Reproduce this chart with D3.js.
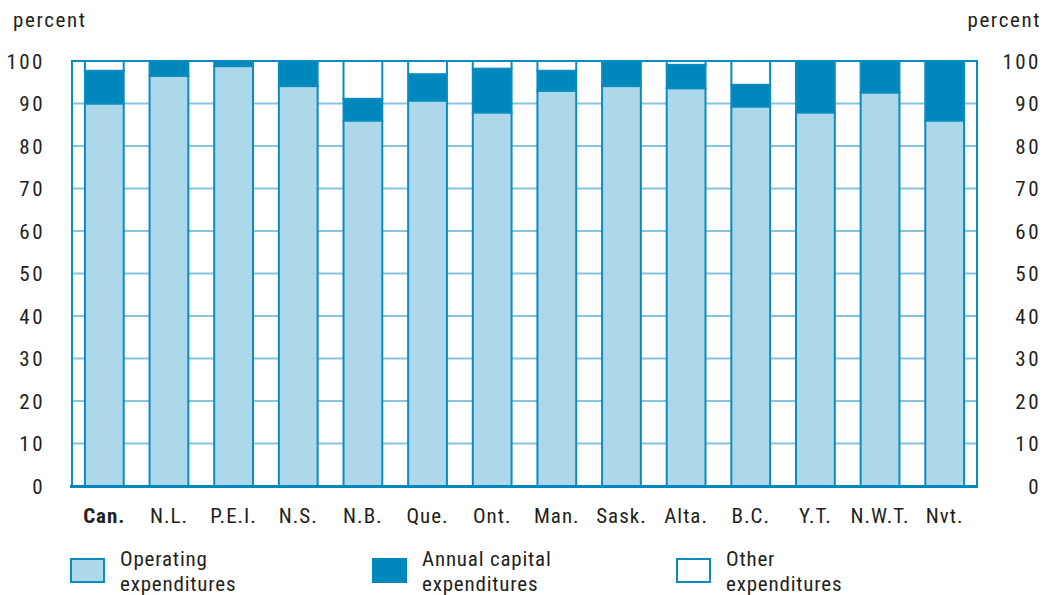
<!DOCTYPE html>
<html>
<head>
<meta charset="utf-8">
<script src="https://cdn.jsdelivr.net/npm/d3@7"></script>
<style>
  body { margin: 0; background: #fff; }
  text { font-family: "Liberation Sans Narrow", "Roboto Condensed", Roboto, sans-serif; fill: #231f20; }
</style>
</head>
<body>
<div id="graphic"></div>
<script>
var regions = ["Can.", "N.L.", "P.E.I.", "N.S.", "N.B.", "Que.", "Ont.", "Man.", "Sask.", "Alta.", "B.C.", "Y.T.", "N.W.T.", "Nvt."];
var operating = [90.0, 96.5, 98.8, 94.1, 86.0, 90.7, 87.9, 93.0, 94.1, 93.6, 89.3, 87.9, 92.6, 86.0];
var capital   = [7.7, 3.5, 1.2, 5.9, 5.1, 6.2, 10.3, 4.7, 5.9, 5.5, 5.1, 12.1, 7.4, 14.0];
var yTicks = [0, 10, 20, 30, 40, 50, 60, 70, 80, 90, 100];
var legendLabels = [["Operating", "expenditures"], ["Annual capital", "expenditures"], ["Other", "expenditures"]];

var width = 1058, height = 595;
var margin = {top: 61, right: 81, bottom: 109, left: 72};

var svg = d3.select("#graphic").append("svg")
  .attr("width", width)
  .attr("height", height);

var x = d3.scaleBand()
  .domain(regions)
  .range([margin.left, width - margin.right])
  .paddingInner(0.4)
  .paddingOuter(0.2);

var y = d3.scaleLinear()
  .domain([0, 100])
  .range([height - margin.bottom, margin.top]);

var blue = "#0a8bc2";
var fills = ["#add8e9", "#0088bd", "#ffffff"];

// gridlines
svg.append("g").selectAll("line")
  .data(yTicks.filter(function(d) { return d > 0 && d < 100; }))
  .enter().append("line")
  .attr("x1", margin.left).attr("x2", width - margin.right)
  .attr("y1", function(d) { return y(d); })
  .attr("y2", function(d) { return y(d); })
  .attr("stroke", "#86c4df")
  .attr("stroke-width", 2);

// stacked bars
var stacks = regions.map(function(r, i) {
  var op = operating[i], cap = capital[i];
  return [
    {region: r, y0: 0, y1: op, k: 0},
    {region: r, y0: op, y1: op + cap, k: 1},
    {region: r, y0: op + cap, y1: 100, k: 2}
  ];
});

var bars = svg.append("g").selectAll("g")
  .data(stacks)
  .enter().append("g");

bars.selectAll("rect")
  .data(function(d) { return d.filter(function(s) { return s.y1 - s.y0 > 0.05; }); })
  .enter().append("rect")
  .attr("x", function(d) { return x(d.region); })
  .attr("width", x.bandwidth())
  .attr("y", function(d) { return y(d.y1); })
  .attr("height", function(d) { return y(d.y0) - y(d.y1); })
  .attr("fill", function(d) { return fills[d.k]; })
  .attr("stroke", blue)
  .attr("stroke-width", 2);

// frame
svg.append("path")
  .attr("d", "M" + margin.left + "," + y(0) + "V" + y(100) + "H" + (width - margin.right) + "V" + y(0))
  .attr("fill", "none")
  .attr("stroke", blue)
  .attr("stroke-width", 2);

svg.append("line")
  .attr("x1", margin.left - 2).attr("x2", width - margin.right + 1)
  .attr("y1", y(0) + 0.5).attr("y2", y(0) + 0.5)
  .attr("stroke", "#0088bd")
  .attr("stroke-width", 3);

// tick labels both sides
var tickFont = 21;
[45, 1041].forEach(function(xPos) {
  svg.append("g").selectAll("text")
    .data(yTicks)
    .enter().append("text")
    .attr("x", xPos)
    .attr("y", function(d) { return y(d); })
    .attr("dy", "0.36em")
    .attr("text-anchor", "end")
    .attr("font-size", tickFont)
    .attr("letter-spacing", 2.5)
    .text(function(d) { return d; });
});

svg.append("text").attr("x", 13).attr("y", 27).attr("font-size", tickFont).attr("letter-spacing", 1.6).text("percent");
svg.append("text").attr("x", 1041).attr("y", 27).attr("text-anchor", "end").attr("font-size", tickFont).attr("letter-spacing", 1.6).text("percent");

// category labels
svg.append("g").selectAll("text")
  .data(regions)
  .enter().append("text")
  .attr("x", function(d) { return x(d) + x.bandwidth() / 2; })
  .attr("y", 523)
  .attr("text-anchor", "middle")
  .attr("font-size", tickFont)
  .attr("letter-spacing", 1)
  .attr("font-weight", function(d) { return d === "Can." ? "bold" : "normal"; })
  .text(function(d) { return d; });

// legend
var legendX = [70, 372, 676];
var legend = svg.append("g").selectAll("g")
  .data(legendLabels)
  .enter().append("g")
  .attr("transform", function(d, i) { return "translate(" + legendX[i] + ",558)"; });

legend.append("rect")
  .attr("x", 1).attr("y", 1)
  .attr("width", 33).attr("height", 23)
  .attr("fill", function(d, i) { return fills[i]; })
  .attr("stroke", function(d, i) { return i === 1 ? "#0088bd" : blue; })
  .attr("stroke-width", 2);

legend.append("text")
  .attr("x", 50).attr("y", 8)
  .attr("font-size", tickFont)
  .attr("letter-spacing", 0.8)
  .text(function(d) { return d[0]; });

legend.append("text")
  .attr("x", 50).attr("y", 33)
  .attr("font-size", tickFont)
  .attr("letter-spacing", 0.8)
  .text(function(d) { return d[1]; });
</script>
</body>
</html>
